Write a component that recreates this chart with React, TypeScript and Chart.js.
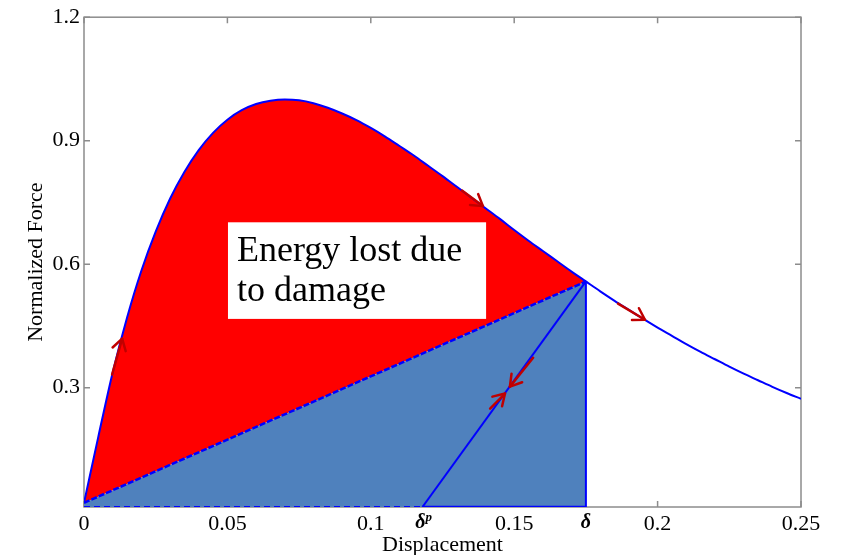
import React, { useEffect, useRef } from "react";
import { Chart, registerables } from "chart.js";

Chart.register(...registerables);

// ---- data ----
const curveX = [
  0, 0.005, 0.01, 0.015, 0.02, 0.025, 0.03, 0.035, 0.04, 0.045, 0.05, 0.055, 0.06, 0.065, 0.07,
  0.075, 0.08, 0.085, 0.09, 0.095, 0.1, 0.105, 0.11, 0.115, 0.12, 0.125, 0.13, 0.135, 0.14,
  0.145, 0.15, 0.155, 0.16, 0.165, 0.17, 0.175, 0.18, 0.185, 0.19, 0.195, 0.2, 0.205, 0.21,
  0.215, 0.22, 0.225, 0.23, 0.235, 0.24, 0.245, 0.25,
];
const curveY = [
  0.02, 0.181, 0.337, 0.47, 0.584, 0.679, 0.759, 0.824, 0.877, 0.919, 0.951, 0.974, 0.989, 0.997, 1.0,
  0.998, 0.991, 0.98, 0.966, 0.95, 0.931, 0.91, 0.887, 0.864, 0.839, 0.814, 0.788, 0.762, 0.736,
  0.71, 0.683, 0.657, 0.632, 0.607, 0.582, 0.558, 0.534, 0.511, 0.489, 0.467, 0.446, 0.426, 0.406,
  0.387, 0.369, 0.351, 0.334, 0.318, 0.302, 0.287, 0.273,
];
const deltaP = 0.118;
const delta = 0.175;
const deltaForce = 0.558;
const originForce = 0.02;
const yMin = 0.01;
const yMax = 1.2;
const xMin = 0;
const xMax = 0.25;

const xTicks = [0, 0.05, 0.1, 0.15, 0.2, 0.25];
const xTickLabels = ["0", "0.05", "0.1", "0.15", "0.2", "0.25"];
const yTicks = [0.3, 0.6, 0.9, 1.2];
const yTickLabels = ["0.3", "0.6", "0.9", "1.2"];

const arrowTailX = [0.0098, 0.1318, 0.1862, 0.1566, 0.1416];
const arrowTailY = [0.332, 0.779, 0.504, 0.3727, 0.249];
const arrowHeadX = [0.0133, 0.1391, 0.1956, 0.1485, 0.1468];
const arrowHeadY = [0.419, 0.741, 0.465, 0.3025, 0.2857];

const boxLines = ["Energy lost due", "to damage"];
const boxLeftX = 0.0502;
const boxRightX = 0.1402;
const boxTopY = 0.7017;
const boxBottomY = 0.467;

const xTitle = "Displacement";
const yTitle = "Normalized Force";

const SERIF = "'Liberation Serif', 'Times New Roman', serif";
const BLUE = "#0000FF";
const RED_FILL = "#FF0000";
const STEEL = "#4F81BD";
const ARROW = "#C00000";
const AXIS = "#8c8c8c";

export default function App() {
  const ref = useRef<HTMLCanvasElement | null>(null);

  useEffect(() => {
    if (!ref.current) return;
    const curve = curveX.map((x, i) => ({ x, y: curveY[i] }));
    const loading = curve.filter((p) => p.x <= delta + 1e-9);

    const framePlugin = {
      id: "frame",
      beforeDatasetsDraw(chart: any) {
        const { ctx, chartArea: a, scales } = chart;
        ctx.save();
        ctx.strokeStyle = AXIS;
        ctx.lineWidth = 1.5;
        ctx.strokeRect(a.left, a.top, a.right - a.left, a.bottom - a.top);
        ctx.beginPath();
        const tl = 6;
        xTicks.forEach((v) => {
          const px = scales.x.getPixelForValue(v);
          ctx.moveTo(px, a.bottom);
          ctx.lineTo(px, a.bottom - tl);
          ctx.moveTo(px, a.top);
          ctx.lineTo(px, a.top + tl);
        });
        yTicks.forEach((v) => {
          const py = scales.y.getPixelForValue(v);
          ctx.moveTo(a.left, py);
          ctx.lineTo(a.left + tl, py);
          ctx.moveTo(a.right, py);
          ctx.lineTo(a.right - tl, py);
        });
        ctx.stroke();
        ctx.restore();
      },
      afterDatasetsDraw(chart: any) {
        const { ctx, scales } = chart;
        const sx = scales.x, sy = scales.y;
        ctx.save();
        // arrows
        ctx.strokeStyle = ARROW;
        ctx.lineWidth = 2.5;
        ctx.lineCap = "round";
        ctx.lineJoin = "round";
        for (let i = 0; i < arrowHeadX.length; i++) {
          const x0 = sx.getPixelForValue(arrowTailX[i]);
          const y0 = sy.getPixelForValue(arrowTailY[i]);
          const x1 = sx.getPixelForValue(arrowHeadX[i]);
          const y1 = sy.getPixelForValue(arrowHeadY[i]);
          ctx.beginPath();
          ctx.moveTo(x0, y0);
          ctx.lineTo(x1, y1);
          ctx.stroke();
          const ang = Math.atan2(y1 - y0, x1 - x0);
          const L = 13, w = 0.55;
          ctx.beginPath();
          ctx.moveTo(x1 - L * Math.cos(ang - w), y1 - L * Math.sin(ang - w));
          ctx.lineTo(x1, y1);
          ctx.lineTo(x1 - L * Math.cos(ang + w), y1 - L * Math.sin(ang + w));
          ctx.stroke();
        }
        // text box
        const bl = sx.getPixelForValue(boxLeftX);
        const br = sx.getPixelForValue(boxRightX);
        const bt = sy.getPixelForValue(boxTopY);
        const bb = sy.getPixelForValue(boxBottomY);
        ctx.fillStyle = "#FFFFFF";
        ctx.fillRect(bl, bt, br - bl, bb - bt);
        ctx.fillStyle = "#000000";
        ctx.font = `36px ${SERIF}`;
        ctx.textAlign = "left";
        ctx.textBaseline = "alphabetic";
        boxLines.forEach((t, i) => ctx.fillText(t, bl + 9, bt + 39 + i * 40));
        ctx.restore();
      },
      afterDraw(chart: any) {
        const { ctx, scales, chartArea: a } = chart;
        ctx.save();
        ctx.fillStyle = "#000000";
        ctx.textBaseline = "middle";
        ctx.textAlign = "center";
        ctx.font = `italic bold 20px ${SERIF}`;
        const pd = scales.x.getPixelForValue(deltaP);
        const d = scales.x.getPixelForValue(delta);
        ctx.fillText("δ", pd - 2, a.bottom + 16);
        ctx.fillText("δ", d, a.bottom + 16);
        ctx.font = `italic bold 13px ${SERIF}`;
        ctx.textAlign = "left";
        ctx.fillText("p", pd + 3, a.bottom + 11);
        ctx.restore();
      },
    };

    const chart = new Chart(ref.current, {
      type: "scatter",
      data: {
        datasets: [
          { data: curve, showLine: true, borderColor: BLUE, borderWidth: 2, pointRadius: 0, cubicInterpolationMode: "monotone", fill: false },
          { data: [{ x: delta, y: yMin }, { x: delta, y: deltaForce }], showLine: true, borderColor: BLUE, borderWidth: 2, pointRadius: 0, fill: false },
          { data: [{ x: deltaP, y: yMin }, { x: delta, y: deltaForce }], showLine: true, borderColor: BLUE, borderWidth: 2, pointRadius: 0, fill: false },
          { data: [{ x: deltaP, y: yMin }, { x: delta, y: yMin }], showLine: true, borderColor: BLUE, borderWidth: 2.5, pointRadius: 0, fill: false },
          { data: [{ x: xMin, y: yMin }, { x: deltaP, y: yMin }], showLine: true, borderColor: BLUE, borderWidth: 2, borderDash: [6, 4], pointRadius: 0, fill: false },
          { data: [{ x: 0, y: originForce }, { x: delta, y: deltaForce }], showLine: true, borderColor: BLUE, borderWidth: 2.5, borderDash: [6, 2], pointRadius: 0, fill: "start", backgroundColor: STEEL },
          { data: loading, showLine: true, borderColor: "rgba(0,0,0,0)", borderWidth: 0, pointRadius: 0, cubicInterpolationMode: "monotone", fill: "-1", backgroundColor: RED_FILL },
        ] as any,
      },
      options: {
        animation: false,
        responsive: false,
        events: [],
        layout: { padding: { top: 15, right: 45, left: 0, bottom: 0 } },
        plugins: { legend: { display: false }, tooltip: { enabled: false }, filler: { propagate: false } } as any,
        scales: {
          x: {
            type: "linear",
            min: xMin,
            max: xMax,
            grid: { display: false, drawTicks: false },
            border: { display: false },
            afterBuildTicks: (s: any) => { s.ticks = xTicks.map((v) => ({ value: v })); },
            afterFit: (s: any) => { s.height = 48; },
            ticks: {
              color: "#000000",
              padding: 4,
              maxRotation: 0,
              autoSkip: false,
              font: { family: SERIF, size: 22 },
              callback: (v: any) => xTickLabels[xTicks.indexOf(Number(v))] ?? "",
            },
            title: { display: true, text: xTitle, color: "#000000", font: { family: SERIF, size: 22 }, padding: { top: 0, bottom: -3 } },
          },
          y: {
            type: "linear",
            min: yMin,
            max: yMax,
            grid: { display: false, drawTicks: false },
            border: { display: false },
            afterBuildTicks: (s: any) => { s.ticks = yTicks.map((v) => ({ value: v })); },
            afterFit: (s: any) => { s.width = 84; },
            ticks: {
              color: "#000000",
              padding: 4,
              autoSkip: false,
              font: { family: SERIF, size: 22 },
              callback: (v: any) => yTickLabels[yTicks.indexOf(Number(v))] ?? "",
            },
            title: { display: true, text: yTitle, color: "#000000", font: { family: SERIF, size: 22 }, padding: { top: 23, bottom: 0 } },
          },
        },
      } as any,
      plugins: [framePlugin],
    });
    return () => chart.destroy();
  }, []);

  return (
    <div style={{ position: "fixed", left: 0, top: 0, width: 846, height: 555, background: "#fff" }}>
      <canvas ref={ref} width={846} height={555} style={{ display: "block", width: 846, height: 555 }} />
    </div>
  );
}
